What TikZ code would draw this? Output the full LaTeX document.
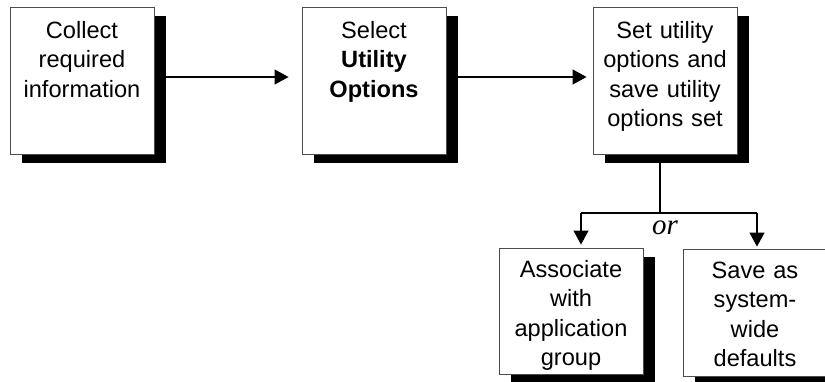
\documentclass[tikz,border=0pt]{standalone}
\usepackage{fontspec}
\setmainfont{Liberation Sans}
\newfontfamily\orfont{Liberation Serif}
\usetikzlibrary{arrows.meta,shadows}

\begin{document}
\begin{tikzpicture}[x=1pt,y=1pt,
  stepbox/.style={draw=black!70, line width=0.9pt, fill=white,
    general shadow={fill=black, shadow xshift=12pt, shadow yshift=-9pt},
    text width=140pt, inner xsep=2pt, inner ysep=0pt, align=center,
    font=\fontsize{23.6}{29.5}\selectfont, text height=31pt},
  link/.style={draw=black, line width=1.2pt},
  arr/.style={link, -{Triangle[length=14pt, width=15pt]}}
]
\useasboundingbox (0,0) rectangle (825,-381);
\clip (0,0) rectangle (825,-381);

% top row
\node[stepbox, text depth=116pt] (collect) at (82,-80.5)
  {Collect\\required\\information};
\node[stepbox, text depth=116pt] (select) at (374,-80.5)
  {Select\\\textbf{Utility}\\\textbf{Options}};
\node[stepbox, text depth=116pt] (setopt) at (665,-80.5)
  {Set utility\\options and\\save utility\\options set};

% bottom row
\node[stepbox, text height=29pt, text depth=97pt] (assoc) at (571,-311)
  {Associate\\with\\application\\group};
\node[stepbox, text height=29pt, text depth=98pt] (sysdef) at (755,-312.5)
  {Save as\\system-\\wide\\defaults};

% flow along the top row
\draw[arr, shorten >=13pt] ([xshift=12pt,yshift=3.5pt]collect.east)
  -- ([yshift=3.5pt]select.west);
\draw[arr, shorten >=6pt] ([xshift=12pt,yshift=3.5pt]select.east)
  -- ([yshift=3.5pt]setopt.west);

% branch into the two alternatives
\coordinate (split) at (660,-213);
\coordinate (forkL) at (581,-213);
\coordinate (forkR) at (757,-213);
\draw[link] ([xshift=-5pt,yshift=-9pt]setopt.south) -- (split);
\draw[link] (forkL) -- (forkR);
\draw[arr, shorten >=3pt] (forkL) -- (forkL |- assoc.north);
\draw[arr, shorten >=2pt] (forkR) -- (forkR |- sysdef.north);

\node[font=\orfont\itshape\fontsize{29}{29}\selectfont, anchor=base, inner sep=0pt]
  (ortext) at (665,-234) {or};
\end{tikzpicture}
\end{document}
